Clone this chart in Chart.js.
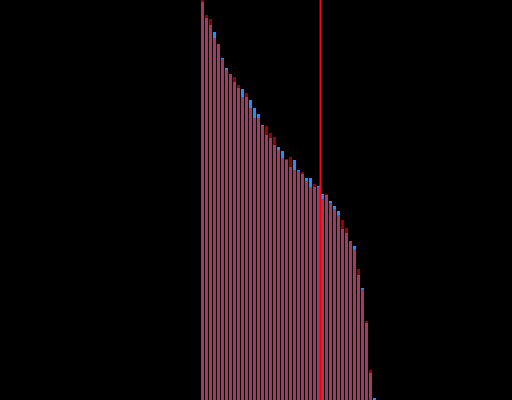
<!DOCTYPE html>
<html>
<head>
<meta charset="utf-8">
<script src="https://cdn.jsdelivr.net/npm/chart.js@4"></script>
<style>
  html, body { margin: 0; padding: 0; background: #000; }
  #wrap { width: 512px; height: 400px; }
</style>
</head>
<body>
<div id="wrap"><canvas id="chart"></canvas></div>
<script>
// bar values (sorted), two overlapping series
const blueValues = [398, 382, 375, 368, 356, 342, 332, 326, 318, 312, 311, 303, 300, 292, 286, 275,
    265, 262, 255, 253, 249, 240, 233, 240, 230, 226, 222, 222, 213, 214, 206, 205, 199, 194, 189,
    171, 167, 159, 154, 125, 112, 77, 27, 2];
const redValues = [405, 385, 381, 362, 356, 341, 330, 326, 323, 315, 303, 307, 292, 282, 282, 274,
    274, 267, 263, 250, 242, 241, 243, 230, 229, 228, 219, 213, 216, 213, 201, 206, 197, 191, 185,
    180, 172, 159, 151, 131, 111, 79, 30, 0];
const markerX = 29.5;   // vertical marker between bar 29 and 30

// draws the vertical marker line
const markerPlugin = {
    id: 'marker',
    afterDatasetsDraw(chart) {
        const ctx = chart.ctx;
        const x = chart.scales.x.getPixelForValue(markerX);
        ctx.save();
        ctx.strokeStyle = '#ff0000';
        ctx.lineWidth = 2;
        ctx.beginPath();
        ctx.moveTo(x, chart.chartArea.top);
        ctx.lineTo(x, chart.chartArea.bottom);
        ctx.stroke();
        ctx.restore();
    }
};

new Chart(document.getElementById('chart'), {
    type: 'bar',
    data: {
        datasets: [
            {
                label: 'red',
                data: redValues.map((v, i) => ({ x: i, y: v })),
                backgroundColor: 'rgba(255, 0, 0, 0.6)',
                order: 0
            },
            {
                label: 'blue',
                data: blueValues.map((v, i) => ({ x: i, y: v })),
                backgroundColor: '#1e90ff',
                order: 1
            }
        ]
    },
    options: {
        responsive: true,
        maintainAspectRatio: false,
        animation: false,
        layout: { padding: 0 },
        datasets: {
            bar: {
                grouped: false,
                barPercentage: 0.75,
                categoryPercentage: 1,
                borderWidth: 0
            }
        },
        plugins: {
            legend: { display: false },
            tooltip: { enabled: false }
        },
        scales: {
            x: {
                type: 'linear',
                display: false,
                offset: false,
                min: -50.625,
                max: 77.375
            },
            y: {
                display: false,
                min: 0,
                max: 400
            }
        }
    },
    plugins: [markerPlugin]
});
</script>
</body>
</html>
